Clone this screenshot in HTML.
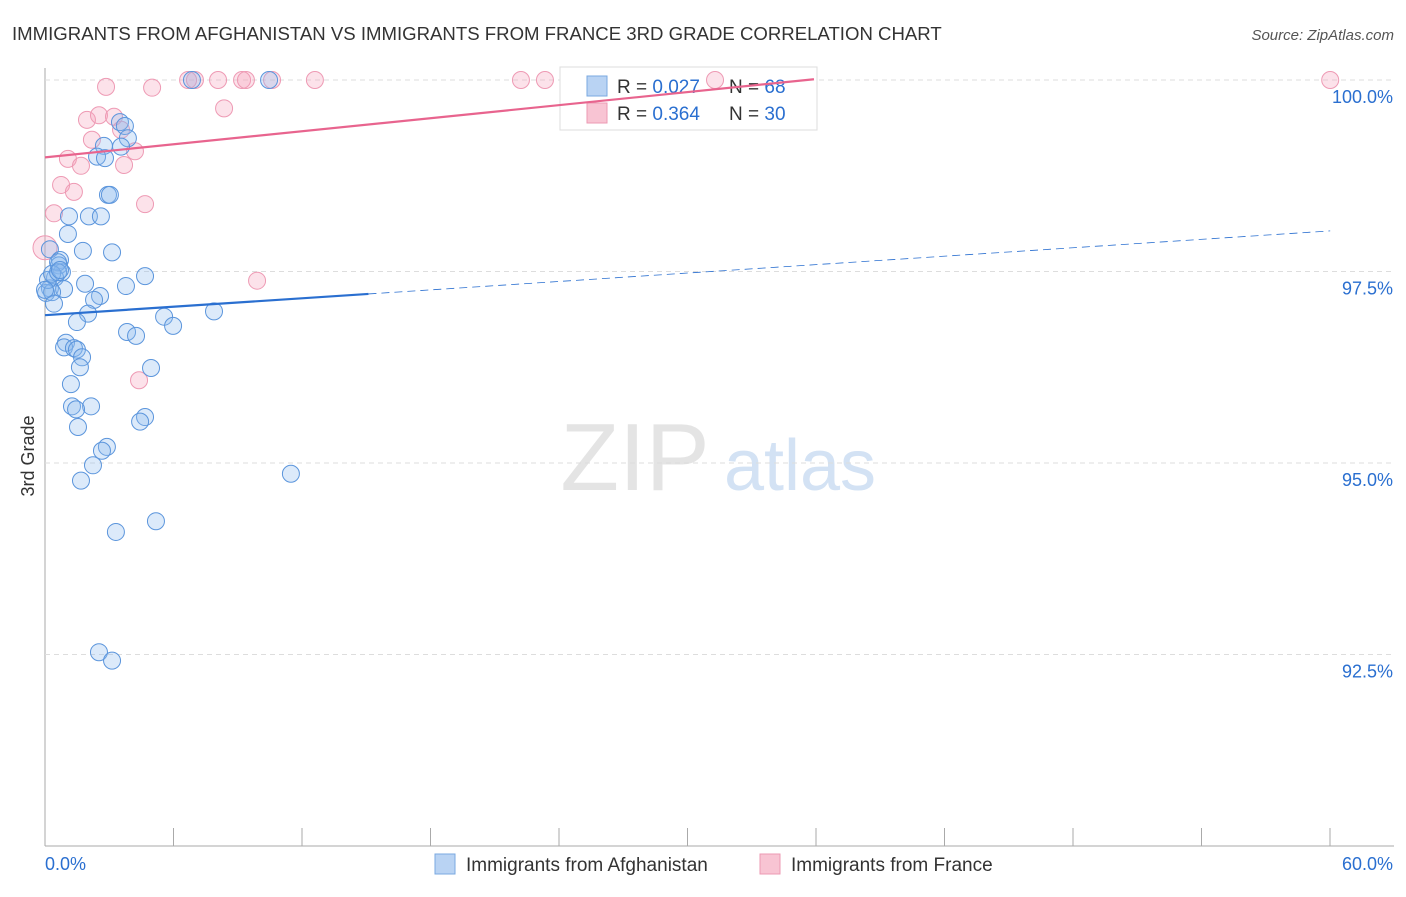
<!DOCTYPE html>
<html><head><meta charset="utf-8"><style>
body{margin:0;background:#fff;font-family:"Liberation Sans",sans-serif}
svg text{font-family:"Liberation Sans",sans-serif}
</style></head><body>
<svg id="c" width="1406" height="892">
<text x="12" y="40" font-size="18.6" fill="#333">IMMIGRANTS FROM AFGHANISTAN VS IMMIGRANTS FROM FRANCE 3RD GRADE CORRELATION CHART</text>
<text x="1394" y="40" font-size="15" fill="#555" font-style="italic" text-anchor="end">Source: ZipAtlas.com</text>
<text x="635" y="490" font-size="96" fill="#e4e4e4" font-family="Liberation Serif" text-anchor="middle">ZIP</text>
<text x="800" y="490" font-size="72" fill="#d3e2f4" text-anchor="middle">atlas</text>
<text transform="translate(34,456) rotate(-90)" font-size="18" fill="#333" text-anchor="middle">3rd Grade</text>
<g id="grid"></g>
<g>
<rect x="560" y="67" width="257" height="63" fill="#fff" stroke="#ddd"/>
<rect x="587" y="76" width="20" height="20" fill="#b9d3f3" stroke="#7aa8e0"/>
<rect x="587" y="103" width="20" height="20" fill="#f8c4d3" stroke="#ec9ab3"/>
<text x="617" y="93" font-size="19" fill="#333">R = <tspan fill="#2a6fd0">0.027</tspan></text>
<text x="729" y="93" font-size="19" fill="#333">N = <tspan fill="#2a6fd0">68</tspan></text>
<text x="617" y="120" font-size="19" fill="#333">R = <tspan fill="#2a6fd0">0.364</tspan></text>
<text x="729" y="120" font-size="19" fill="#333">N = <tspan fill="#2a6fd0">30</tspan></text>
</g>
<g id="pts"></g><g id="lines"></g>
<g>
<rect x="435" y="854" width="20" height="20" fill="#b9d3f3" stroke="#7aa8e0"/>
<text x="466" y="871" font-size="19" fill="#333">Immigrants from Afghanistan</text>
<rect x="760" y="854" width="20" height="20" fill="#f8c4d3" stroke="#ec9ab3"/>
<text x="791" y="871" font-size="19" fill="#333">Immigrants from France</text>
</g>
</svg>
<script>
const yTicks=[100,97.5,95,92.5];
const yTickLabels=["100.0%","97.5%","95.0%","92.5%"];
const xTickLabels=["0.0%","60.0%"];
const blueX=[6.86,10.46,3.50,3.73,3.87,2.75,3.55,2.43,2.80,2.94,3.03,1.12,2.05,2.61,1.07,1.77,3.13,0.23,0.70,0.65,0.79,0.47,4.67,1.87,3.78,0.23,0.89,0.05,0.33,2.57,2.29,0.42,2.01,7.89,5.56,1.49,5.98,3.83,4.25,0.98,0.89,1.35,1.49,1.73,1.63,4.95,1.21,1.26,2.15,1.45,4.67,4.44,1.54,2.89,2.66,2.24,1.68,11.48,5.18,3.31,2.52,3.13,0.14,0,0.61,0.33,0.61,0.70];
const blueY=[100,100,99.45,99.40,99.24,99.14,99.13,99.0,98.98,98.50,98.50,98.22,98.22,98.22,97.99,97.77,97.75,97.79,97.65,97.58,97.49,97.42,97.44,97.34,97.31,97.28,97.27,97.22,97.23,97.18,97.13,97.08,96.95,96.98,96.91,96.84,96.79,96.71,96.66,96.57,96.51,96.50,96.48,96.38,96.25,96.24,96.03,95.74,95.74,95.70,95.60,95.54,95.47,95.21,95.16,94.97,94.77,94.86,94.24,94.10,92.53,92.42,97.39,97.26,97.62,97.47,97.49,97.52];
const pinkX=[0,0.42,0.75,1.35,1.07,1.68,2.19,1.96,2.52,3.22,3.55,3.69,4.20,4.67,2.85,5.0,6.68,7.0,8.08,9.20,9.38,10.6,12.6,8.36,22.22,23.34,31.28,60,9.9,4.39];
const pinkY=[97.81,98.26,98.63,98.54,98.97,98.88,99.22,99.48,99.54,99.52,99.35,98.89,99.07,98.38,99.91,99.90,100,100,100,100,100,100,100,99.63,100,100,100,100,97.38,96.08];
const blueTrend=[96.93,98.03];
const pinkTrend=[98.99,100.01];
const NS="http://www.w3.org/2000/svg";
const X=v=>45+v*21.42, Y=v=>80+(100-v)*76.6;
function mk(t,a,p){const e=document.createElementNS(NS,t);for(const k in a)e.setAttribute(k,a[k]);p.appendChild(e);return e;}
const g=document.getElementById('grid');
let ax=mk('line',{x1:45,y1:68,x2:45,y2:846,stroke:'#aaa'},g);


let bx=mk('line',{x1:45,y1:846,x2:1394,y2:846,stroke:'#aaa'},g);


for(let i=0;i<=10;i++){const t=mk('line',{x1:45+i*128.5,y1:828,x2:45+i*128.5,y2:846,stroke:'#aaa'},g);

}
yTicks.forEach((v,i)=>{const l=mk('line',{x1:45,y1:Y(v),x2:1394,y2:Y(v),stroke:'#ddd','stroke-dasharray':'5,4'},g);


const t=mk('text',{x:1393,y:Y(v)+23,'font-size':18,fill:'#2a6fd0','text-anchor':'end'},g);t.textContent=yTickLabels[i];

});
xTickLabels.forEach((s,i)=>{const t=mk('text',{x:i?1393:45,y:870,'font-size':18,fill:'#2a6fd0','text-anchor':i?'end':'start'},g);t.textContent=s;

});
const p=document.getElementById('pts');
pinkX.forEach((x,i)=>{const c=mk('circle',{cx:X(x),cy:Y(pinkY[i]),r:i==0?12:8.5,fill:'rgba(244,160,185,0.3)',stroke:'#ee9ab4','stroke-width':1},p);

});
blueX.forEach((x,i)=>{const c=mk('circle',{cx:X(x),cy:Y(blueY[i]),r:8.5,fill:'rgba(140,185,238,0.3)',stroke:'#5b95dc','stroke-width':1},p);

});
const L=document.getElementById('lines');
const by=x=>blueTrend[0]+(blueTrend[1]-blueTrend[0])*x/60;
let l1=mk('line',{x1:X(0),y1:Y(by(0)),x2:X(15.1),y2:Y(by(15.1)),stroke:'#2a6fd0','stroke-width':2.2},L);


let l2=mk('line',{x1:X(15.1),y1:Y(by(15.1)),x2:X(60),y2:Y(by(60)),stroke:'#2a6fd0','stroke-width':0.8,'stroke-dasharray':'8,5'},L);


let l3=mk('line',{x1:X(0),y1:Y(pinkTrend[0]),x2:X(35.9),y2:Y(pinkTrend[1]),stroke:'#e8648e','stroke-width':2.2},L);


</script>
</body></html>
